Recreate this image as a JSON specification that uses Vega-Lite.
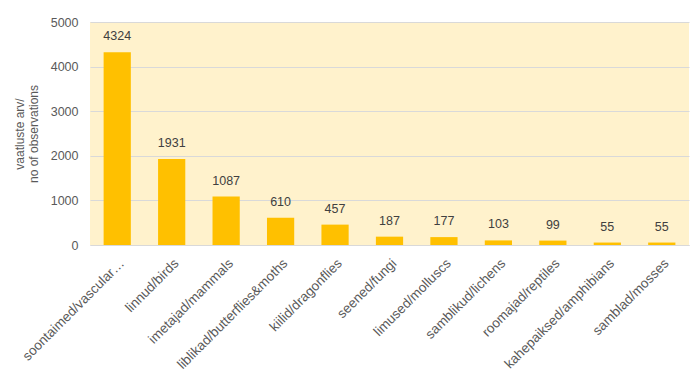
{
  "$schema": "https://vega.github.io/schema/vega-lite/v6.json",
  "autosize": "none",
  "width": 599,
  "height": 223,
  "padding": {"left": 90, "top": 22, "right": 11, "bottom": 137},
  "background": "#ffffff",
  "config": {
    "font": "Liberation Sans",
    "view": {"fill": "#FFF2CC", "stroke": null}
  },
  "data": {
    "values": [
      {"group": "soontaimed/vascular plants", "count": 4324},
      {"group": "linnud/birds", "count": 1931},
      {"group": "imetajad/mammals", "count": 1087},
      {"group": "liblikad/butterflies&moths", "count": 610},
      {"group": "kiilid/dragonflies", "count": 457},
      {"group": "seened/fungi", "count": 187},
      {"group": "limused/molluscs", "count": 177},
      {"group": "samblikud/lichens", "count": 103},
      {"group": "roomajad/reptiles", "count": 99},
      {"group": "kahepaiksed/amphibians", "count": 55},
      {"group": "samblad/mosses", "count": 55}
    ]
  },
  "encoding": {
    "x": {
      "field": "group",
      "type": "nominal",
      "sort": null,
      "scale": {"paddingInner": 0.5, "paddingOuter": 0.25},
      "axis": {
        "title": null,
        "labelAngle": -45,
        "labelAlign": "right",
        "labelBaseline": "top",
        "labelPadding": 11,
        "labelFontSize": 13.5,
        "labelColor": "#595959",
        "labelLimit": 300,
        "labelExpr": "datum.label == 'soontaimed/vascular plants' ? 'soontaimed/vascular…' : datum.label",
        "ticks": false,
        "domainColor": "#D9D9D9",
        "domainWidth": 1
      }
    },
    "y": {
      "field": "count",
      "type": "quantitative",
      "scale": {"domain": [0, 5000]},
      "axis": {
        "values": [0, 1000, 2000, 3000, 4000, 5000],
        "format": "d",
        "title": ["vaatluste arv/", "no of observations"],
        "titleFontSize": 12,
        "titleFontWeight": "normal",
        "titleColor": "#595959",
        "titlePadding": 10,
        "labelFontSize": 12.5,
        "labelColor": "#595959",
        "labelPadding": 12,
        "ticks": false,
        "domain": false,
        "gridColor": "#D9D9D9",
        "gridWidth": 1
      }
    }
  },
  "layer": [
    {"mark": {"type": "bar", "color": "#FFC000"}},
    {
      "mark": {"type": "text", "baseline": "bottom", "dy": -9, "fontSize": 12.5, "color": "#404040"},
      "encoding": {"text": {"field": "count", "type": "quantitative"}}
    }
  ]
}
